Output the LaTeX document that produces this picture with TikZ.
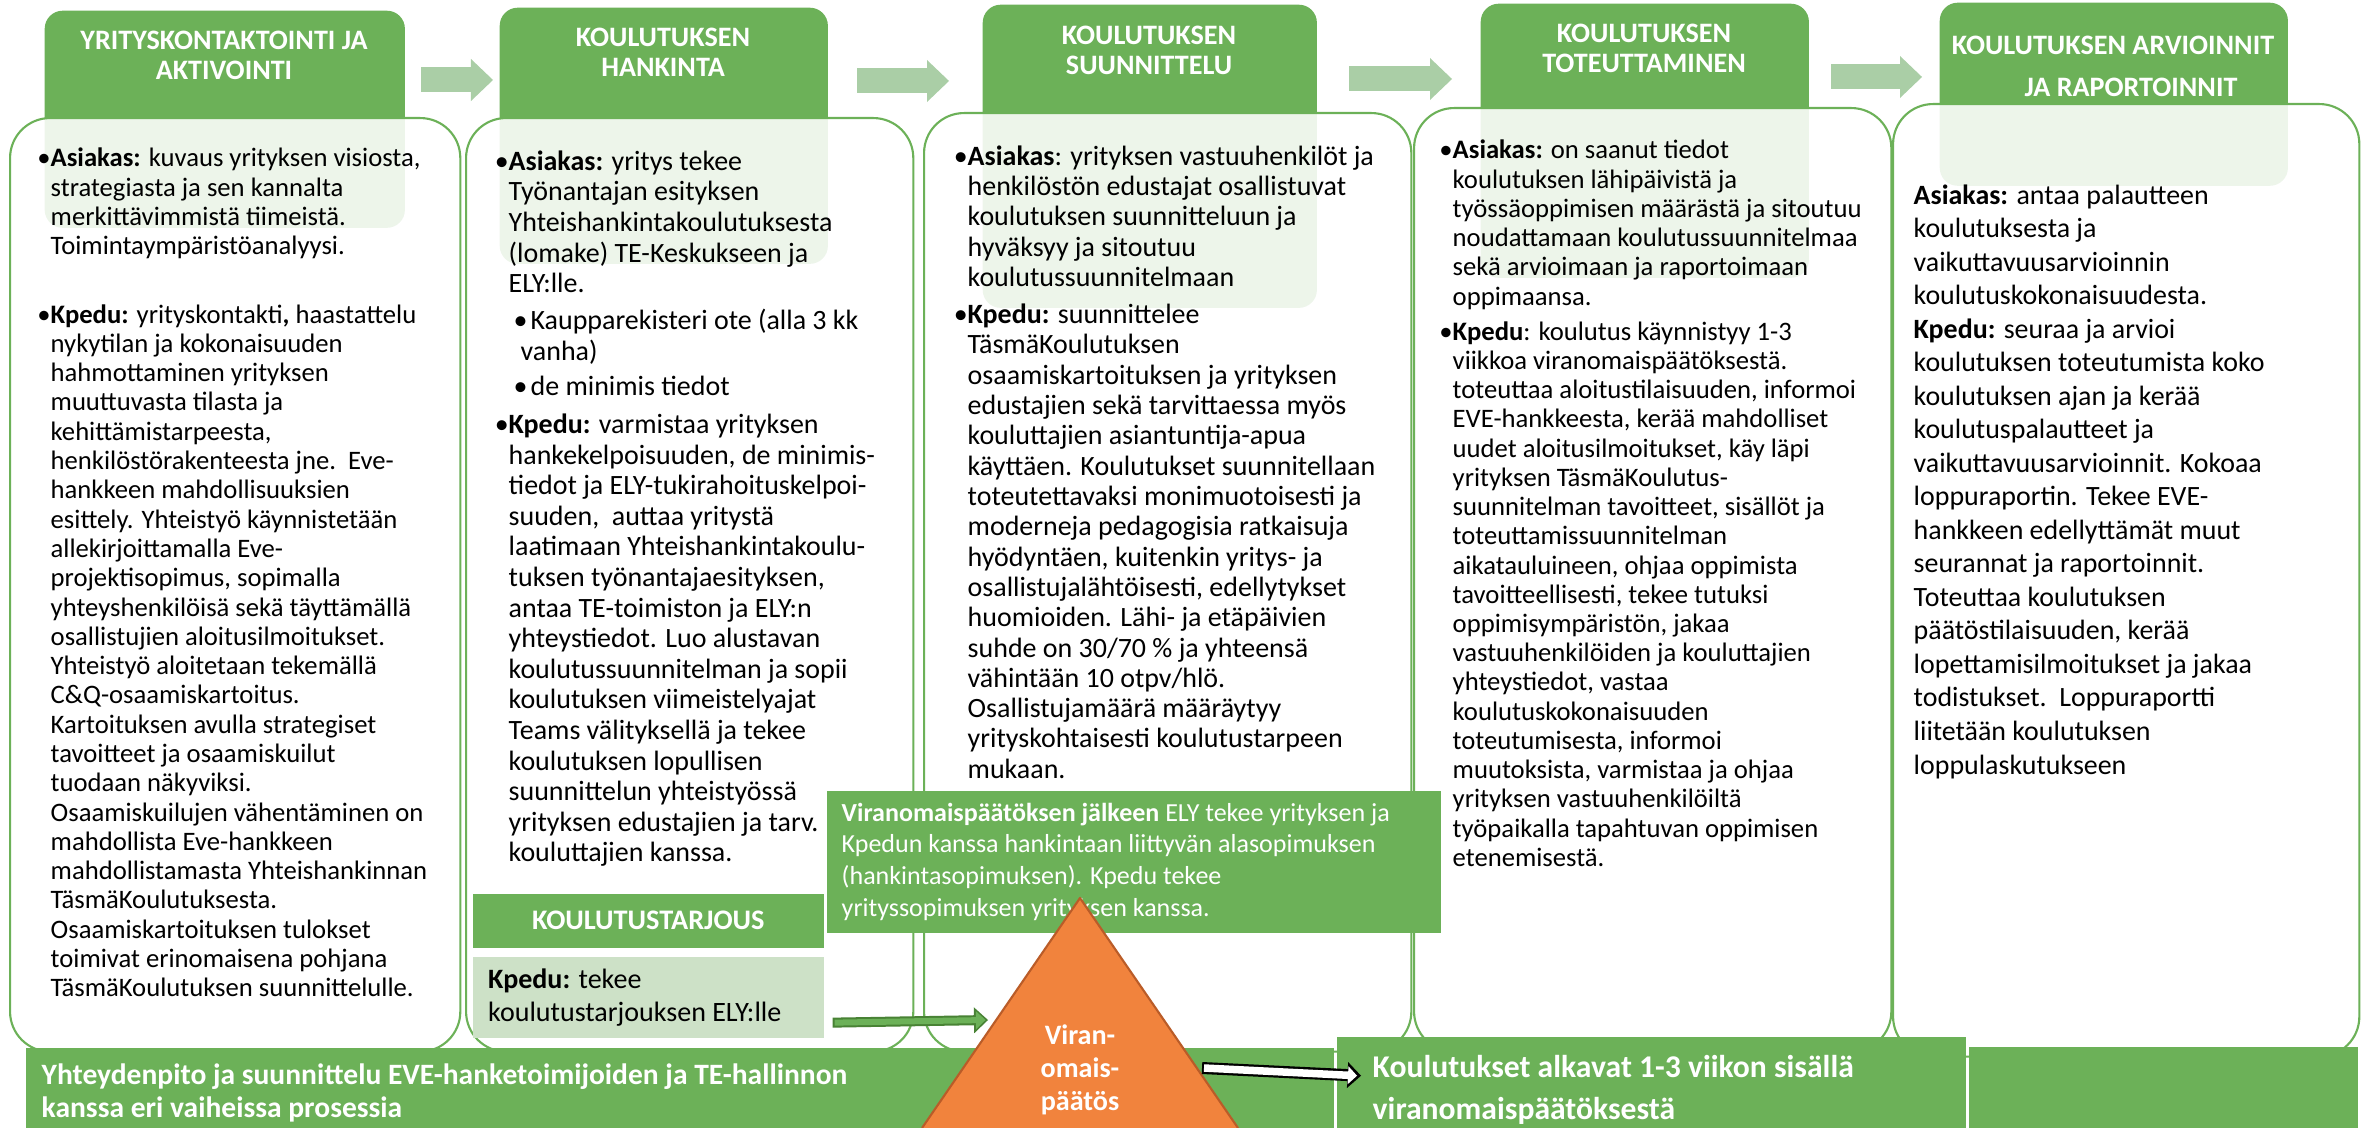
\documentclass[tikz,border=0pt]{standalone}
\usepackage{fontspec}
\setmainfont{Carlito}
\usetikzlibrary{positioning, arrows.meta}
\definecolor{phaseColor}{RGB}{108, 177, 88}
\definecolor{arrowColor}{RGB}{170, 206, 166}
\definecolor{offerFill}{RGB}{205, 225, 199}
\definecolor{offerLine}{RGB}{72, 130, 52}
\definecolor{decisionFill}{RGB}{241, 131, 61}
\definecolor{decisionLine}{RGB}{186, 92, 40}
\tikzset{
    phase_head/.style={
        fill=phaseColor,
        rounded corners=0.18cm,
        anchor=north west,
        inner sep=0pt
    },
    phase_title/.style={
        text=white,
        align=center,
        font=\bfseries\fontsize{8}{8.5}\selectfont
    },
    stage_box/.style={
        draw=phaseColor,
        line width=0.6pt,
        fill=white,
        fill opacity=0.88,
        rounded corners=0.4cm,
        anchor=north west,
        inner sep=0pt
    },
    stage_text/.style={
        anchor=north west,
        inner sep=0pt,
        align=flush left
    },
    phase_arrow/.style={
        draw=arrowColor,
        line width=0.25cm,
        -{Triangle[length=0.22cm, width=0.42cm, line width=0pt]}
    },
    band_box/.style={
        fill=phaseColor,
        anchor=north west,
        inner ysep=0pt,
        text=white,
        align=flush left
    },
    offer_title/.style={
        fill=phaseColor,
        text=white,
        anchor=north west,
        minimum width=3.51cm,
        minimum height=0.54cm,
        font=\bfseries\fontsize{8.05}{9}\selectfont
    },
    offer_text/.style={
        fill=offerFill,
        text width=3.2cm,
        inner xsep=0.155cm,
        minimum height=0.8cm,
        align=flush left,
        font=\fontsize{7.97}{9.4}\selectfont
    },
    note_box/.style={
        fill=phaseColor,
        text=white,
        anchor=north west,
        text width=5.84cm,
        inner xsep=0.15cm,
        minimum height=1.42cm,
        align=flush left,
        font=\fontsize{7.4}{9}\selectfont
    },
    decision_fill/.style={fill=decisionFill},
    decision_line/.style={draw=decisionLine, line width=0.6pt, line join=round},
    decision_text/.style={
        text=white,
        align=center,
        font=\bfseries\fontsize{8}{9.4}\selectfont
    },
    offer_edge/.style={
        draw=offerLine,
        line width=0.1cm,
        -{Triangle[length=0.14cm, width=0.26cm, line width=0pt]}
    },
    offer_core/.style={
        draw=phaseColor,
        line width=0.06cm,
        -{Triangle[length=0.095cm, width=0.18cm, line width=0pt]}
    },
    start_edge/.style={
        draw=black,
        line width=0.12cm,
        -{Triangle[length=0.135cm, width=0.26cm, line width=0pt]}
    },
    start_core/.style={
        draw=white,
        line width=0.075cm,
        -{Triangle[length=0.09cm, width=0.18cm, line width=0pt]}
    }
}

\begin{document}
\begin{tikzpicture}[x=0.01cm, y=-0.01cm]
    \useasboundingbox (0,0) rectangle (2367,1128);

    % phase headers
    \node[phase_head, minimum width=3.6cm, minimum height=2.17cm] (h1) at (44,10) {};
    \node[phase_head, minimum width=3.28cm, minimum height=2.56cm] (h2) at (499,7) {};
    \node[phase_head, minimum width=3.34cm, minimum height=3.03cm] (h3) at (982,4) {};
    \node[phase_head, minimum width=3.28cm, minimum height=2.74cm] (h4) at (1480,3) {};
    \node[phase_head, minimum width=3.48cm, minimum height=1.83cm] (h5) at (1939,2) {};

    % stage boxes
    \node[stage_box, minimum width=4.5cm, minimum height=9.33cm] (b1) at (9,117) {};
    \node[stage_box, minimum width=4.47cm, minimum height=9.33cm] (b2) at (465,117) {};
    \node[stage_box, minimum width=4.87cm, minimum height=9.38cm] (b3) at (923,112) {};
    \node[stage_box, minimum width=4.77cm, minimum height=9.43cm] (b4) at (1413,107) {};
    \node[stage_box, minimum width=4.66cm, minimum height=9.52cm] (b5) at (1892,103) {};

    \node[phase_title] (t1) at (224,55.5) {YRITYSKONTAKTOINTI JA\\AKTIVOINTI};
    \node[phase_title] (t2) at (663,52) {KOULUTUKSEN\\HANKINTA};
    \node[phase_title] (t3) at (1149,50) {KOULUTUKSEN\\SUUNNITTELU};
    \node[phase_title] (t4) at (1644,48.5) {KOULUTUKSEN\\TOTEUTTAMINEN};
    \node[phase_title] (t5) at (2113,66) {KOULUTUKSEN ARVIOINNIT\\[0.12cm]\hspace*{0.36cm}JA RAPORTOINNIT};

    \foreach \xa/\xb/\ya in {421/493/80, 857/949/81, 1349/1452/79, 1831/1922/77}
        \draw[phase_arrow] (\xa,\ya) -- (\xb,\ya);

    % stage texts
    \node[stage_text, font=\fontsize{7.58}{8.33}\selectfont] (c1) at (50,147.5) {%
        \llap{•}\textbf{Asiakas:} kuvaus yrityksen visiosta,\\
        strategiasta ja sen kannalta\\
        merkittävimmistä tiimeistä.\\
        Toimintaympäristöanalyysi.\\[0.39cm]
        \llap{•}\textbf{Kpedu:} yrityskontakti\textbf{,} haastattelu\\
        nykytilan ja kokonaisuuden\\
        hahmottaminen yrityksen\\
        muuttuvasta tilasta ja\\
        kehittämistarpeesta,\\
        henkilöstörakenteesta jne.\ \ Eve-\\
        hankkeen mahdollisuuksien\\
        esittely. Yhteistyö käynnistetään\\
        allekirjoittamalla Eve-\\
        projektisopimus, sopimalla\\
        yhteyshenkilöisä sekä täyttämällä\\
        osallistujien aloitusilmoitukset.\\
        Yhteistyö aloitetaan tekemällä\\
        C\&Q-osaamiskartoitus.\\
        Kartoituksen avulla strategiset\\
        tavoitteet ja osaamiskuilut\\
        tuodaan näkyviksi.\\
        Osaamiskuilujen vähentäminen on\\
        mahdollista Eve-hankkeen\\
        mahdollistamasta Yhteishankinnan\\
        TäsmäKoulutuksesta.\\
        Osaamiskartoituksen tulokset\\
        toimivat erinomaisena pohjana\\
        TäsmäKoulutuksen suunnittelulle.};

    \node[stage_text, font=\fontsize{7.95}{8.7}\selectfont] (c2) at (508,150) {%
        \llap{•}\textbf{Asiakas:} yritys tekee\\
        Työnantajan esityksen\\
        Yhteishankintakoulutuksesta\\
        (lomake) TE-Keskukseen ja\\
        ELY:lle.\\[0.065cm]
        \hspace*{0.05cm}•\hspace*{0.03cm}Kaupparekisteri ote (alla 3 kk\\
        \hspace*{0.12cm}vanha)\\[0.045cm]
        \hspace*{0.05cm}•\hspace*{0.03cm}de minimis tiedot\\[0.075cm]
        \llap{•}\textbf{Kpedu:} varmistaa yrityksen\\
        hankekelpoisuuden, de minimis-\\
        tiedot ja ELY-tukirahoituskelpoi-\\
        suuden,\ \ auttaa yritystä\\
        laatimaan Yhteishankintakoulu-\\
        tuksen työnantajaesityksen,\\
        antaa TE-toimiston ja ELY:n\\
        yhteystiedot. Luo alustavan\\
        koulutussuunnitelman ja sopii\\
        koulutuksen viimeistelyajat\\
        Teams välityksellä ja tekee\\
        koulutuksen lopullisen\\
        suunnittelun yhteistyössä\\
        yrityksen edustajien ja tarv.\\
        kouluttajien kanssa.};

    \node[stage_text, font=\fontsize{7.95}{8.62}\selectfont] (c3) at (967,145) {%
        \llap{•}\textbf{Asiakas}: yrityksen vastuuhenkilöt ja\\
        henkilöstön edustajat osallistuvat\\
        koulutuksen suunnitteluun ja\\
        hyväksyy ja sitoutuu\\
        koulutussuunnitelmaan\\[0.067cm]
        \llap{•}\textbf{Kpedu:} suunnittelee\\
        TäsmäKoulutuksen\\
        osaamiskartoituksen ja yrityksen\\
        edustajien sekä tarvittaessa myös\\
        kouluttajien asiantuntija-apua\\
        käyttäen. Koulutukset suunnitellaan\\
        toteutettavaksi monimuotoisesti ja\\
        moderneja pedagogisia ratkaisuja\\
        hyödyntäen, kuitenkin yritys- ja\\
        osallistujalähtöisesti, edellytykset\\
        huomioiden. Lähi- ja etäpäivien\\
        suhde on 30/70~\% ja yhteensä\\
        vähintään 10 otpv/hlö.\\
        Osallistujamäärä määräytyy\\
        yrityskohtaisesti koulutustarpeen\\
        mukaan.};

    \node[stage_text, font=\fontsize{7.58}{8.31}\selectfont] (c4) at (1452,139.5) {%
        \llap{•}\textbf{Asiakas:} on saanut tiedot\\
        koulutuksen lähipäivistä ja\\
        työssäoppimisen määrästä ja sitoutuu\\
        noudattamaan koulutussuunnitelmaa\\
        sekä arvioimaan ja raportoimaan\\
        oppimaansa.\\[0.06cm]
        \llap{•}\textbf{Kpedu}: koulutus käynnistyy 1-3\\
        viikkoa viranomaispäätöksestä.\\
        toteuttaa aloitustilaisuuden, informoi\\
        EVE-hankkeesta, kerää mahdolliset\\
        uudet aloitusilmoitukset, käy läpi\\
        yrityksen TäsmäKoulutus-\\
        suunnitelman tavoitteet, sisällöt ja\\
        toteuttamissuunnitelman\\
        aikatauluineen, ohjaa oppimista\\
        tavoitteellisesti, tekee tutuksi\\
        oppimisympäristön, jakaa\\
        vastuuhenkilöiden ja kouluttajien\\
        yhteystiedot, vastaa\\
        koulutuskokonaisuuden\\
        toteutumisesta, informoi\\
        muutoksista, varmistaa ja ohjaa\\
        yrityksen vastuuhenkilöiltä\\
        työpaikalla tapahtuvan oppimisen\\
        etenemisestä.};

    \node[stage_text, font=\fontsize{7.94}{9.53}\selectfont] (c5) at (1913,184) {%
        \textbf{Asiakas:} antaa palautteen\\
        koulutuksesta ja\\
        vaikuttavuusarvioinnin\\
        koulutuskokonaisuudesta.\\
        \textbf{Kpedu:} seuraa ja arvioi\\
        koulutuksen toteutumista koko\\
        koulutuksen ajan ja kerää\\
        koulutuspalautteet ja\\
        vaikuttavuusarvioinnit. Kokoaa\\
        loppuraportin. Tekee EVE-\\
        hankkeen edellyttämät muut\\
        seurannat ja raportoinnit.\\
        Toteuttaa koulutuksen\\
        päätöstilaisuuden, kerää\\
        lopettamisilmoitukset ja jakaa\\
        todistukset.\ \ Loppuraportti\\
        liitetään koulutuksen\\
        loppulaskutukseen};

    % offer and decision
    \node[offer_title] (otsikko) at (472,893) {KOULUTUSTARJOUS};
    \node[offer_text, below=0.08cm of otsikko] (tarjous) {\textbf{Kpedu:} tekee\\koulutustarjouksen ELY:lle};

    \node[note_box] (jalkeen) at (826,790) {\textbf{Viranomaispäätöksen jälkeen} ELY tekee yrityksen ja\\
        Kpedun kanssa hankintaan liittyvän alasopimuksen\\
        (hankintasopimuksen). Kpedu tekee\\
        yrityssopimuksen yrityksen kanssa.};

    % bottom band
    \node[band_box, text width=12.76cm, inner xsep=0.16cm, minimum height=0.91cm,
        font=\bfseries\fontsize{8.4}{9.4}\selectfont] (yhteys) at (25,1047)
        {Yhteydenpito ja suunnittelu EVE-hanketoimijoiden ja TE-hallinnon\\kanssa eri vaiheissa prosessia};
    \node[band_box, text width=5.57cm, inner xsep=0.36cm, minimum height=1.06cm,
        font=\bfseries\fontsize{9}{11.95}\selectfont] (alkavat) at (1336,1036)
        {Koulutukset alkavat 1-3 viikon sisällä\\viranomaispäätöksestä};
    \node[band_box, minimum width=3.89cm, minimum height=0.82cm] (loppu) at (1968,1046) {};

    \coordinate (apex) at (1080,898);
    \coordinate (kanta_v) at (922,1128);
    \coordinate (kanta_o) at (1238,1128);
    \path[decision_fill] (apex) -- (kanta_o) -- (kanta_v) -- cycle;
    \draw[decision_line] (kanta_v) -- (apex) -- (kanta_o);
    \node[decision_text] (paatos) at (1080,1070) {Viran-\\omais-\\päätös};

    \coordinate (paatos_l) at (988,1020);
    \coordinate (paatos_r) at (1202,1068);
    \draw[offer_edge] ([shift={(0.08cm,-0.25cm)}]tarjous.east) -- (paatos_l);
    \draw[offer_core] ([shift={(0.10cm,-0.25cm)}]tarjous.east) -- ([xshift=-0.025cm]paatos_l);
    \draw[start_edge] (paatos_r) -- ([shift={(0.25cm,0.14cm)}]alkavat.west);
    \draw[start_core] ([xshift=0.02cm]paatos_r) -- ([shift={(0.21cm,0.14cm)}]alkavat.west);
\end{tikzpicture}
\end{document}
